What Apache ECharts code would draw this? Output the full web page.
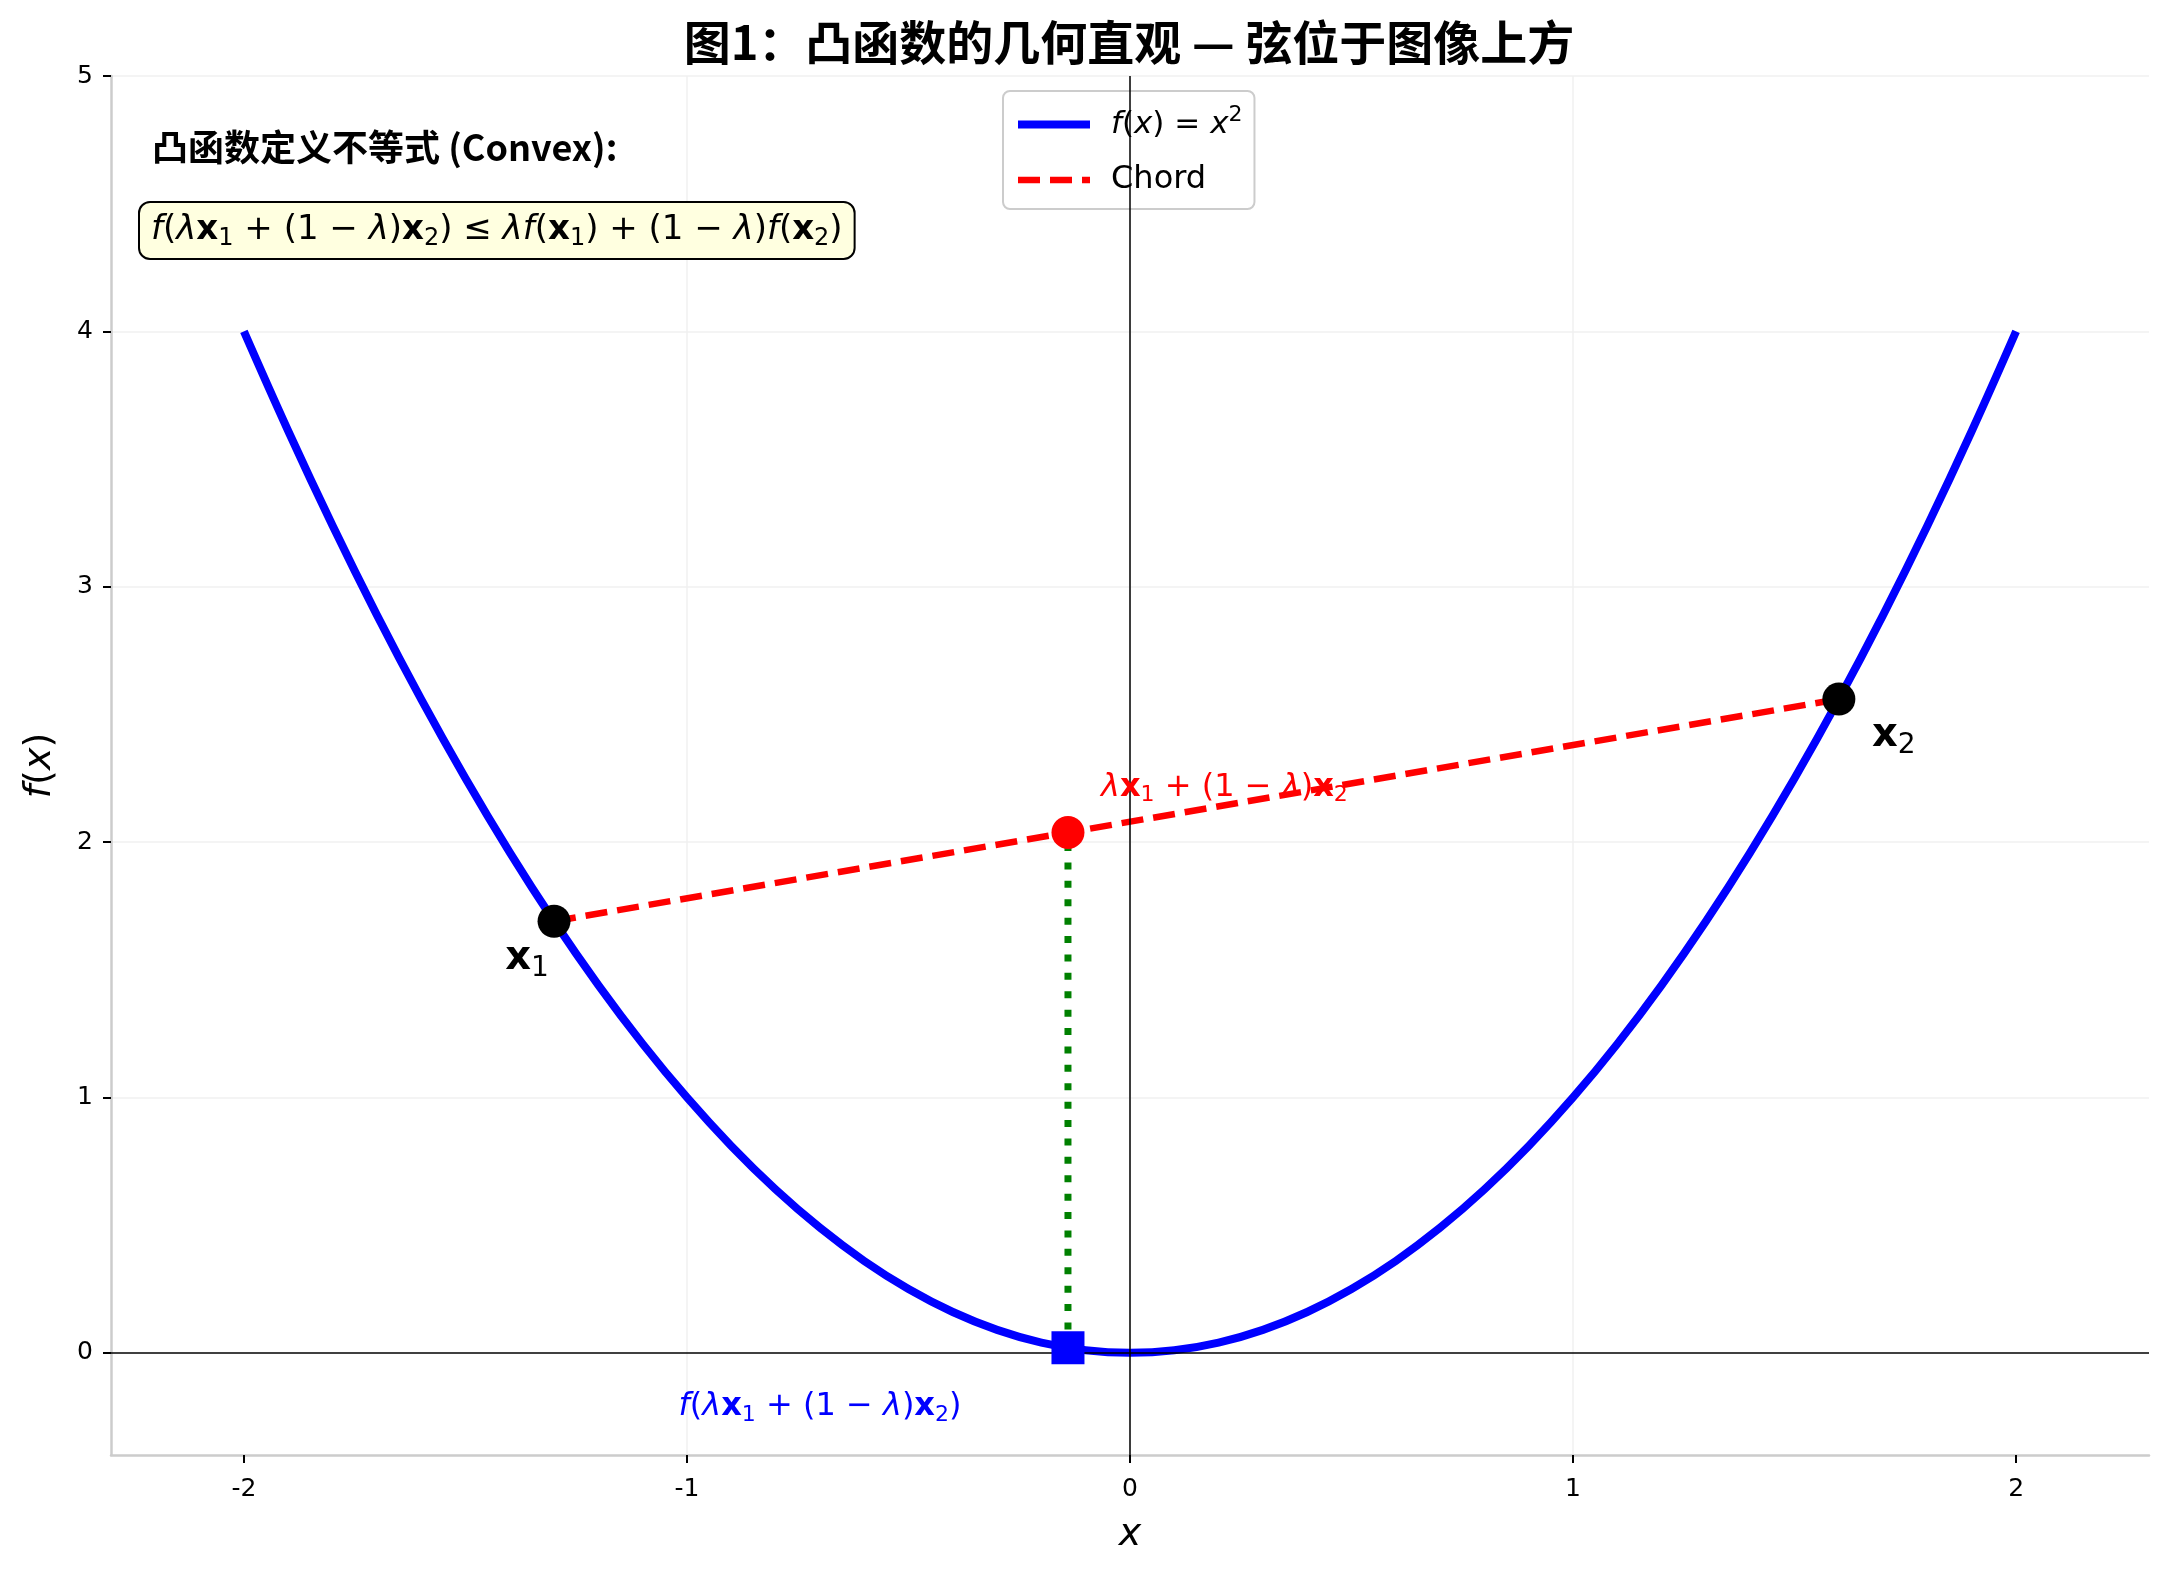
<!DOCTYPE html>
<html><head><meta charset="utf-8">
<script src="https://cdn.jsdelivr.net/npm/echarts@6/dist/echarts.min.js"></script>
<style>html,body{margin:0;padding:0;background:#fff}#c{width:2170px;height:1576px}</style>
</head><body><div id="c"></div>
<script>
// ---- data ----
const curveX = [-2.0,-1.9,-1.8,-1.7,-1.6,-1.5,-1.4,-1.3,-1.2,-1.1,-1.0,-0.9,-0.8,-0.7,-0.6,-0.5,-0.4,-0.3,-0.2,-0.1,0.0,
                0.1,0.2,0.3,0.4,0.5,0.6,0.7,0.8,0.9,1.0,1.1,1.2,1.3,1.4,1.5,1.6,1.7,1.8,1.9,2.0];
const curveY = [4.00,3.61,3.24,2.89,2.56,2.25,1.96,1.69,1.44,1.21,1.00,0.81,0.64,0.49,0.36,0.25,0.16,0.09,0.04,0.01,0.00,
                0.01,0.04,0.09,0.16,0.25,0.36,0.49,0.64,0.81,1.00,1.21,1.44,1.69,1.96,2.25,2.56,2.89,3.24,3.61,4.00];
const keyX = [-1.3, 1.6];          // x1, x2
const keyY = [1.69, 2.56];         // f(x1), f(x2)
const lambdaX = [-0.14];           // λx1 + (1-λ)x2
const chordY = [2.038];            // λf(x1) + (1-λ)f(x2)
const curveAtLambdaY = [0.0196];   // f(λx1 + (1-λ)x2)
const xRange = [-2.3, 2.3];
const yRange = [-0.4, 5];
const xTicks = [-2, -1, 0, 1, 2];
const yTicks = [0, 1, 2, 3, 4, 5];

// ---- helpers ----
function mathRich(size, color) {
  const base = {fontFamily: 'DejaVu Sans', fontSize: size, color: color, fill: color};
  return {
    n: Object.assign({}, base),
    i: Object.assign({}, base, {fontStyle: 'italic'}),
    b: Object.assign({}, base, {fontWeight: 'bold'}),
    s: Object.assign({}, base, {fontSize: Math.round(size * 0.7), padding: [Math.round(size * 0.5), 0, 0, 0]}),
    p: Object.assign({}, base, {fontSize: Math.round(size * 0.7), padding: [0, 0, Math.round(size * 0.6), 0]})
  };
}
const combo = '{i|f}{n|(}{i|λ}{b|x}{s|1}{n| + (1 − }{i|λ}{n|)}{b|x}{s|2}{n|)}';
const mixText = '{i|λ}{b|x}{s|1}{n| + (1 − }{i|λ}{n|)}{b|x}{s|2}';
const ineqText = combo + '{n| ≤ }{i|λf}{n|(}{b|x}{s|1}{n|) + (1 − }{i|λ}{n|)}{i|f}{n|(}{b|x}{s|2}{n|)}';

const chart = echarts.init(document.getElementById('c'));
chart.setOption({
  animation: false,
  backgroundColor: '#ffffff',
  grid: {left: 111, right: 21, top: 76, bottom: 121, containLabel: false},
  xAxis: {
    type: 'value', min: xRange[0], max: xRange[1], interval: 1,
    name: '{i|x}', nameLocation: 'middle', nameGap: 61,
    nameTextStyle: {rich: mathRich(38, '#000')},
    axisLine: {show: true, onZero: false, lineStyle: {color: '#cccccc', width: 2.5}},
    axisTick: {show: true, customValues: xTicks, length: 8, lineStyle: {color: '#000', width: 2}},
    axisLabel: {customValues: xTicks, margin: 22, fontFamily: 'DejaVu Sans', fontSize: 25, color: '#000'},
    splitLine: {show: true, showMinLine: false, showMaxLine: false, lineStyle: {color: '#f0f0f0', width: 1.5}}
  },
  yAxis: {
    type: 'value', min: yRange[0], max: yRange[1], interval: 1,
    name: '{i|f}{n|(}{i|x}{n|)}', nameLocation: 'middle', nameGap: 52, nameRotate: 90,
    nameTextStyle: {rich: mathRich(38, '#000')},
    axisLine: {show: true, onZero: false, lineStyle: {color: '#cccccc', width: 2.5}},
    axisTick: {show: true, customValues: yTicks, length: 8, lineStyle: {color: '#000', width: 2}},
    axisLabel: {customValues: yTicks, margin: 18, fontFamily: 'DejaVu Sans', fontSize: 25, color: '#000'},
    splitLine: {show: true, showMinLine: false, showMaxLine: true, lineStyle: {color: '#f0f0f0', width: 1.5}}
  },
  legend: {
    data: [
      {name: 'f(x) = x²', lineStyle: {width: 8, color: '#0000ff'}},
      {name: 'Chord', lineStyle: {width: 6.5, color: '#ff0000', type: [22, 10]}}
    ],
    orient: 'vertical', left: 1003, top: 91,
    padding: [13, 12, 13, 11],
    itemWidth: 72, itemHeight: 20, itemGap: 24,
    itemStyle: {opacity: 0, color: 'transparent', borderWidth: 0},
    backgroundColor: '#ffffff', borderColor: '#cccccc', borderWidth: 2, borderRadius: 7,
    formatter: function (name) {
      return name === 'Chord' ? '{c|Chord}' : '{i|f}{n|(}{i|x}{n|) = }{i|x}{p|2}';
    },
    textStyle: {padding: [0, 0, 0, 16], rich: Object.assign(mathRich(31, '#000'), {c: {fontFamily: 'DejaVu Sans', fontSize: 32, color: '#000'}})}
  },
  graphic: [
    {type: 'text', x: 1129, y: 42, z: 100,
     style: {text: '图1：凸函数的几何直观 — 弦位于图像上方', fill: '#000', font: 'bold 47px "Noto Sans CJK SC"', align: 'center', verticalAlign: 'middle'}},
    {type: 'text', x: 152, y: 147, z: 100,
     style: {text: '凸函数定义不等式 (Convex):', fill: '#000', font: 'bold 36px "Noto Sans CJK SC"', align: 'left', verticalAlign: 'middle'}},
    {type: 'text', x: 140, y: 203, z: 100,
     style: {text: ineqText, rich: mathRich(34, '#000'), align: 'left', verticalAlign: 'top',
             backgroundColor: '#ffffe0', borderColor: '#000', borderWidth: 2, borderRadius: 10, padding: [7, 11, 7, 11]}}
  ],
  series: [
    {name: 'f(x) = x²', type: 'line', z: 3, symbol: 'none', silent: true, smooth: 0.4,
     data: curveX.map((x, i) => [x, curveY[i]]),
     itemStyle: {color: '#0000ff'},
     lineStyle: {color: '#0000ff', width: 8},
     markLine: {silent: true, symbol: 'none', label: {show: false},
       lineStyle: {color: '#000', width: 1.5, type: 'solid'},
       data: [{yAxis: 0}, {xAxis: 0}]}},
    {name: 'Chord', type: 'line', z: 4, symbol: 'none', silent: true,
     data: keyX.map((x, i) => [x, keyY[i]]),
     itemStyle: {color: '#ff0000'},
     lineStyle: {color: '#ff0000', width: 6.5, type: [22, 10], cap: 'butt'}},
    {name: 'drop', type: 'line', z: 4, symbol: 'none', silent: true,
     data: [[lambdaX[0], curveAtLambdaY[0]], [lambdaX[0], chordY[0]]],
     lineStyle: {color: '#008000', width: 7, type: [7, 11.4], cap: 'butt'}},
    {name: 'keys', type: 'scatter', z: 6, symbol: 'circle', symbolSize: 33, silent: true,
     itemStyle: {color: '#000', opacity: 1},
     data: [
       {value: [keyX[0], keyY[0]], label: {show: true, position: 'inside', align: 'center', verticalAlign: 'middle',
         offset: [-27, 37], formatter: '{b|x}{s|1}', rich: mathRich(40, '#000')}},
       {value: [keyX[1], keyY[1]], label: {show: true, position: 'inside', align: 'center', verticalAlign: 'middle',
         offset: [55, 37], formatter: '{b|x}{s|2}', rich: mathRich(40, '#000')}}
     ]},
    {name: 'mix', type: 'scatter', z: 6, symbol: 'circle', symbolSize: 33, silent: true,
     itemStyle: {color: '#ff0000', opacity: 1},
     data: [{value: [lambdaX[0], chordY[0]], label: {show: true, position: 'inside', align: 'left', verticalAlign: 'middle',
         offset: [33, -45], formatter: mixText, rich: mathRich(32, '#ff0000')}}]},
    {name: 'fmix', type: 'scatter', z: 7, symbol: 'rect', symbolSize: 33, silent: true,
     itemStyle: {color: '#0000ff', opacity: 1},
     data: [{value: [lambdaX[0], curveAtLambdaY[0]], label: {show: true, position: 'inside', align: 'center', verticalAlign: 'middle',
         offset: [-248, 59], formatter: combo, rich: mathRich(32, '#0000ff')}}]}
  ]
});
</script></body></html>
